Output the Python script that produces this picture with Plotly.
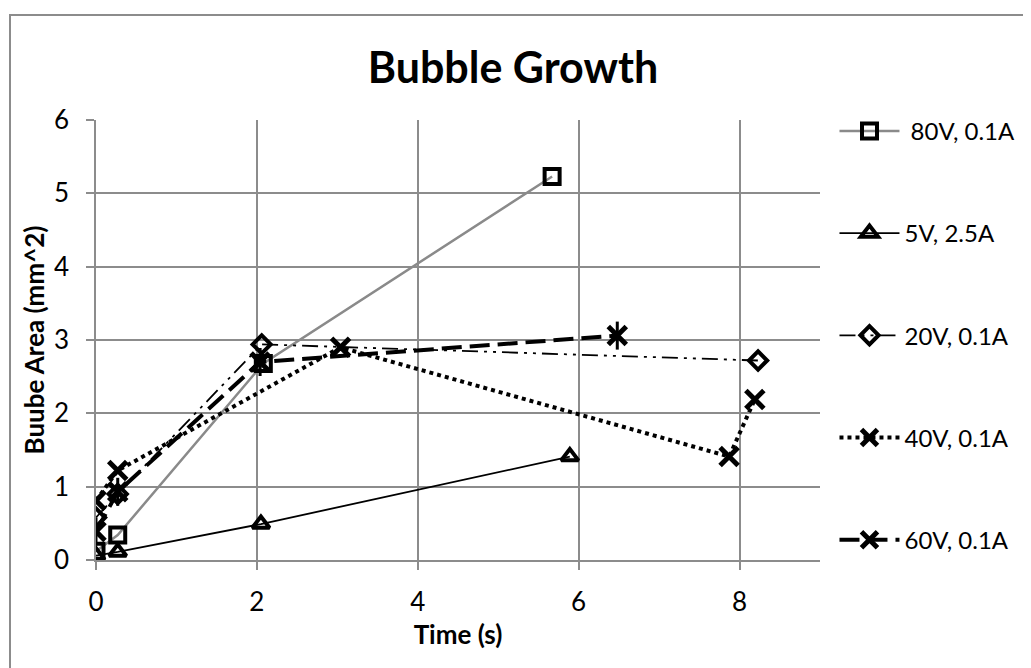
import plotly.graph_objects as go

# Data
t_80v = [0.0, 0.27, 2.08, 5.67]
a_80v = [0.12, 0.34, 2.68, 5.23]

t_5v = [0.0, 0.27, 2.05, 5.89]
a_5v = [0.06, 0.11, 0.49, 1.41]

t_20v = [0.0, 0.27, 2.06, 8.23]
a_20v = [0.58, 0.90, 2.94, 2.72]

t_40v = [0.0, 0.27, 3.04, 7.87, 8.19]
a_40v = [0.81, 1.22, 2.90, 1.41, 2.19]

t_60v = [0.0, 0.27, 2.04, 6.48]
a_60v = [0.39, 0.93, 2.70, 3.06]

x_ticks = [0, 2, 4, 6, 8]
y_ticks = [0, 1, 2, 3, 4, 5, 6]

FONT = "Lato"
GRID = "#8c8c8c"

fig = go.Figure()

fig.add_trace(go.Scatter(
    x=t_80v, y=a_80v, name=" 80V, 0.1A", mode="lines+markers", legendgroup="a",
    line=dict(color="#8a8a8a", width=2.5),
    marker=dict(symbol="square-open", size=15, color="black", line=dict(width=4, color="black")),
))
fig.add_trace(go.Scatter(
    x=t_5v, y=a_5v, name="5V, 2.5A", mode="lines+markers", legendgroup="b",
    line=dict(color="black", width=1.8),
    marker=dict(symbol="triangle-up-open", size=15, color="black", line=dict(width=4, color="black")),
))
fig.add_trace(go.Scatter(
    x=t_20v, y=a_20v, name="20V, 0.1A", mode="lines+markers", legendgroup="c",
    line=dict(color="black", width=1.8, dash="16px,6px,3px,6px,3px,6px"),
    marker=dict(symbol="diamond-open", size=14, color="black", line=dict(width=4, color="black")),
))
fig.add_trace(go.Scatter(
    x=t_40v, y=a_40v, name="40V, 0.1A", mode="lines+markers", legendgroup="d",
    line=dict(color="black", width=4, dash="4px,4px"),
    marker=dict(symbol="x-thin-open", size=18, color="black", line=dict(width=5, color="black")),
))
fig.add_trace(go.Scatter(
    x=t_60v, y=a_60v, name="60V, 0.1A", mode="lines+markers", legendgroup="e",
    line=dict(color="black", width=4, dash="20px,8px"),
    marker=dict(symbol="x-thin-open", size=18, color="black", line=dict(width=5, color="black")),
))
# vertical stubs of the 60V star marker
fig.add_trace(go.Scatter(
    x=t_60v, y=a_60v, mode="markers", legendgroup="e", showlegend=False, hoverinfo="skip",
    marker=dict(symbol="line-ns-open", size=20, color="black", line=dict(width=3, color="black")),
))

fig.update_layout(
    width=1031, height=668,
    paper_bgcolor="white", plot_bgcolor="white",
    margin=dict(l=88, r=219, t=112, b=116),
    font=dict(family=FONT, color="black", size=24),
    title=dict(text="<b>Bubble Growth</b>", x=0.4898, xref="container", xanchor="center",
               y=0.91, yref="container", yanchor="middle",
               font=dict(family=FONT, size=43, color="black")),
    legend=dict(x=1.02, xanchor="left", y=1.0255, yanchor="top",
                font=dict(family=FONT, size=24, color="black"),
                tracegroupgap=68, itemwidth=60, bgcolor="rgba(0,0,0,0)",
                maxheight=660),
    showlegend=True,
)

fig.update_xaxes(
    range=[0, 9], tickvals=x_ticks, ticktext=[str(v) for v in x_ticks],
    showgrid=True, gridcolor=GRID, gridwidth=1.5,
    showline=True, linecolor=GRID, linewidth=1.5,
    ticks="outside", ticklen=8, tickcolor=GRID, tickwidth=1.5,
    ticklabelstandoff=10,
    zeroline=False, automargin=False,
    tickfont=dict(family=FONT, size=26),
    title=dict(text="<b>Time (s)</b>", font=dict(family=FONT, size=26), standoff=10),
)
fig.update_yaxes(
    range=[0, 6], tickvals=y_ticks, ticktext=[str(v) for v in y_ticks],
    showgrid=True, gridcolor=GRID, gridwidth=1.5,
    showline=True, linecolor=GRID, linewidth=1.5,
    ticks="outside", ticklen=8, tickcolor=GRID, tickwidth=1.5,
    ticklabelstandoff=12,
    zeroline=False, automargin=False,
    tickfont=dict(family=FONT, size=26),
    title=dict(text="<b>Buube Area (mm^2)</b>", font=dict(family=FONT, size=26), standoff=2),
)

# outer chart border
fig.add_shape(type="rect", xref="paper", yref="paper",
              x0=(10 - 96) / 724, x1=(1034 - 96) / 724,
              y0=(560 - 690) / 440, y1=(560 - 15) / 440,
              line=dict(color="#8c8c8c", width=2), layer="below")

fig.write_html("out.html")
